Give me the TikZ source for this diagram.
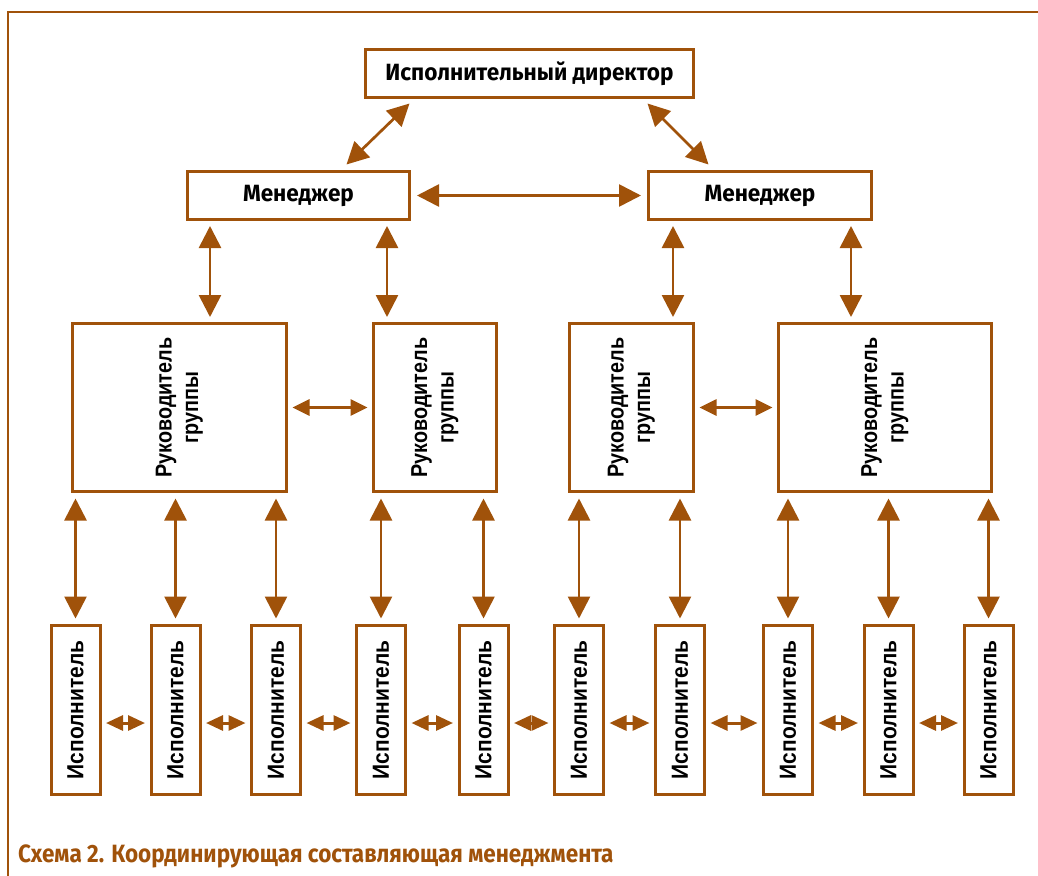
\documentclass[tikz,border=0pt]{standalone}
\usepackage{fontspec}
\setmainfont{Fira Sans}
\newfontfamily\headfont[FakeStretch=0.96]{Fira Sans}
\newfontfamily\leadfont[FakeStretch=0.86]{Liberation Sans}
\newfontfamily\boxfont[FakeStretch=0.9]{Liberation Sans}
\newfontfamily\capfont[FakeStretch=0.9]{Fira Sans}
\usetikzlibrary{arrows.meta,calc}

\definecolor{brown}{RGB}{160,82,10}

\tikzset{
  frameline/.style={draw=brown, line width=2.5pt},
  box/.style={draw=brown, line width=3pt, fill=white, inner sep=0pt, align=center},
  headbox/.style={box, minimum height=48pt,
    font=\headfont\bfseries\fontsize{23.5}{26}\selectfont},
  groupbox/.style={box, minimum height=168pt,
    font=\leadfont\bfseries\fontsize{23}{26.5}\selectfont},
  workbox/.style={box, minimum width=49pt, minimum height=169pt,
    font=\boxfont\bfseries\fontsize{23.3}{26}\selectfont},
  bigarrow/.style={draw=brown, line width=2.7pt,
    {Triangle[length=22pt,width=22pt]}-{Triangle[length=22pt,width=22pt]}},
  midarrow/.style={draw=brown, line width=2.7pt,
    {Triangle[length=17pt,width=16pt]}-{Triangle[length=17pt,width=16pt]}},
  smallarrow/.style={draw=brown, line width=3pt,
    {Triangle[length=17pt,width=15pt]}-{Triangle[length=17pt,width=15pt]}},
}

\newcommand{\lead}{\rotatebox{90}{\begin{tabular}{@{}c@{}}Руководитель\\группы\end{tabular}}}
\newcommand{\worker}{\rotatebox{90}{Исполнитель}}

\begin{document}
\begin{tikzpicture}[x=1pt,y=-1pt]
\useasboundingbox (0,0) rectangle (1038,875);
\fill[white] (0,0) rectangle (1038,875);

% outer frame (top and left edges)
\draw[frameline] (8,880) -- (8,12) -- (1045,12);

% top level
\node[headbox, minimum width=328pt] (dir) at (529.5,73.5) {Исполнительный директор};
\node[headbox, minimum width=222pt] (m1) at (298.5,195.5) {Менеджер};
\node[headbox, minimum width=223pt] (m2) at (760,195.5) {Менеджер};

% group leaders
\node[groupbox, minimum width=214pt] (g1) at (179.5,407.5) {\lead};
\node[groupbox, minimum width=123pt] (g2) at (435,407.5) {\lead};
\node[groupbox, minimum width=124pt] (g3) at (631.5,407.5) {\lead};
\node[groupbox, minimum width=213pt] (g4) at (885,407.5) {\lead};

% executors
\foreach \i/\x in {1/75.5,2/175.5,3/276,4/381,5/483.5,6/579,7/680,8/788,9/888.5,10/988.5}
  \node[workbox] (e\i) at (\x,710) {\worker};

% director -- managers
\draw[bigarrow] ($(dir.south west)+(45.5,4.5)$) -- ($(m1.north west)+(160.5,-5.5)$);
\draw[bigarrow] ($(dir.south east)+(-47.5,4.5)$) -- ($(m2.north west)+(61.5,-5.5)$);
\draw[bigarrow, shorten <=6pt, shorten >=6pt] (m1) -- (m2);

% managers -- group leaders
\draw[bigarrow, shorten <=5pt, shorten >=5pt] ([xshift=-88.5pt]m1.south) -- ([xshift=-88.5pt]m1.south |- g1.north);
\draw[bigarrow, shorten <=5pt, shorten >=5pt] ([xshift=88.5pt]m1.south) -- ([xshift=88.5pt]m1.south |- g2.north);
\draw[bigarrow, shorten <=5pt, shorten >=5pt] ([xshift=-87pt]m2.south) -- ([xshift=-87pt]m2.south |- g3.north);
\draw[bigarrow, shorten <=5pt, shorten >=5pt] ([xshift=91pt]m2.south) -- ([xshift=91pt]m2.south |- g4.north);

% between group leaders
\draw[midarrow, shorten <=4.5pt, shorten >=4.5pt] (g1) -- (g2);
\draw[midarrow, shorten <=4.5pt, shorten >=4.5pt] (g3) -- (g4);

% group leaders -- executors
\foreach \g/\e in {g1/e1,g1/e2,g1/e3,g2/e4,g2/e5,g3/e6,g3/e7,g4/e8,g4/e9,g4/e10}
  \draw[bigarrow, shorten <=5.5pt, shorten >=5.5pt] (\e.north |- \g.south) -- (\e.north);

% between executors
\foreach \a/\b in {e1/e2,e2/e3,e3/e4,e4/e5,e5/e6,e6/e7,e7/e8,e8/e9,e9/e10}
  \draw[smallarrow, shorten <=4.5pt, shorten >=4.5pt] ([yshift=-13pt]\a.east) -- ([yshift=-13pt]\b.west);

% caption
\node[anchor=base west, inner sep=0pt, text=brown,
      font=\capfont\bfseries\fontsize{25}{28}\selectfont] (cap) at (18,862)
  {Схема 2. Координирующая составляющая менеджмента};
\end{tikzpicture}
\end{document}
